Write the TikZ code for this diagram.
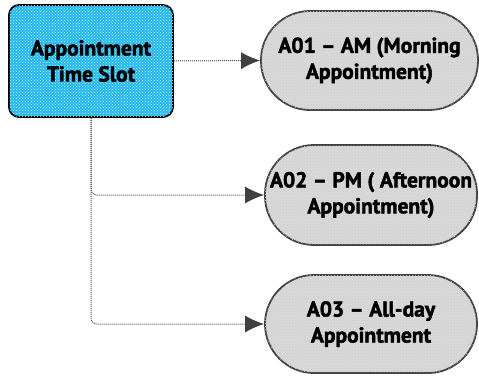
\documentclass[tikz,border=0pt]{standalone}
\usepackage{fontspec}
\setmainfont{PT Sans}[BoldFeatures={FakeBold=2}]
\usetikzlibrary{arrows.meta, positioning, patterns}

\begin{document}
\begin{tikzpicture}[
  x = 1pt, y = 1pt,
  slotbox/.style={draw=black, line width=1.8pt, rounded corners=10pt, fill={rgb,255:red,41;green,182;blue,236},
    minimum width=164pt, minimum height=112pt, inner sep=0pt, postaction={pattern=crosshatch dots, pattern color=white!70!cyan}},
  option/.style={draw=black!75, line width=1.8pt, rounded corners=49pt, fill=black!15,
    minimum width=212pt, minimum height=99pt, inner sep=0pt, postaction={pattern=crosshatch dots, pattern color=white!60!gray}},
  link/.style={densely dotted, line width=1pt, black!70, rounded corners=6pt,
    -{Latex[length=19pt, width=17pt, black!75]}},
  every node/.style={align=center, font=\fontsize{21.5}{26}\selectfont\bfseries}
]
\useasboundingbox (0,0) rectangle (479,376);

%main box
\node[slotbox] (slot) at (91,315) {Appointment\\Time Slot};

%options
\node[option, minimum width=217pt] (am) at (369.5,315.5) {A01 -- AM (Morning\\Appointment)};
\node[option, minimum height=100pt] (pm) at (371,181) {A02 -- PM ( Afternoon\\Appointment)};
\node[option, minimum height=98pt] (allday) at (371,52) {A03 -- All-day\\Appointment};

%links
\draw[link] (slot.east) -- (am.west);
\draw[link] (slot.south) |- (pm.west);
\draw[link] (slot.south) |- (allday.west);

\end{tikzpicture}
\end{document}
